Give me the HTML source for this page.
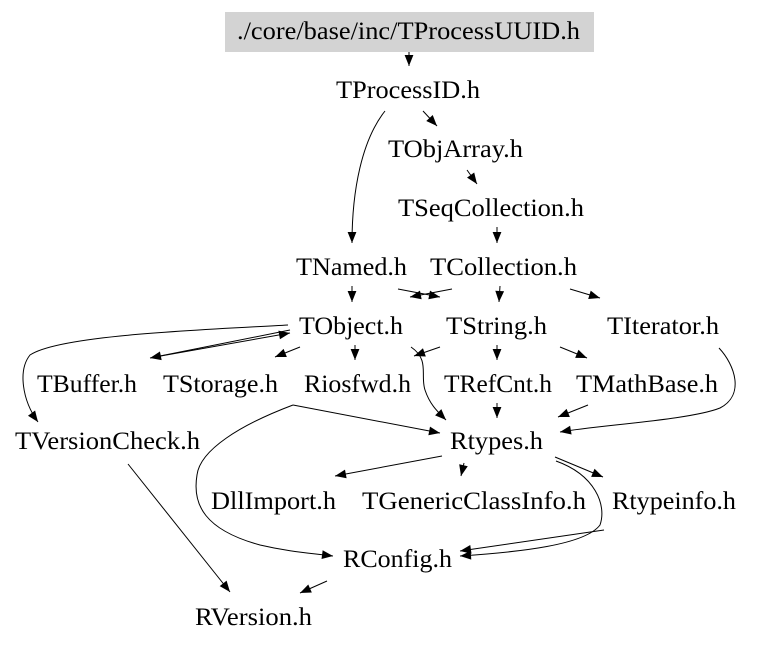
<!DOCTYPE html>
<html><head><meta charset="utf-8"><style>
html,body{margin:0;padding:0;background:#fff;}
svg{display:block;}
text{font-family:"Liberation Serif",serif;font-size:25px;fill:#000;}
path,line{stroke:#000;stroke-width:1;fill:none;}
</style></head><body>
<svg width="757" height="645" viewBox="0 0 757 645" xmlns="http://www.w3.org/2000/svg">
<defs>
<marker id="a" viewBox="0 0 10 10" refX="10" refY="5" markerWidth="13" markerHeight="11" markerUnits="userSpaceOnUse" orient="auto">
<path d="M0,1 L10,5 L0,9 z" style="fill:#000;stroke:none"/>
</marker>
</defs>
<rect x="225" y="12" width="369" height="40" fill="#d3d3d3"/>
<text x="237" y="39" textLength="343" lengthAdjust="spacingAndGlyphs">./core/base/inc/TProcessUUID.h</text>
<text x="336" y="98" textLength="144" lengthAdjust="spacingAndGlyphs">TProcessID.h</text>
<text x="388" y="157" textLength="135" lengthAdjust="spacingAndGlyphs">TObjArray.h</text>
<text x="398" y="216" textLength="186" lengthAdjust="spacingAndGlyphs">TSeqCollection.h</text>
<text x="296" y="275" textLength="111" lengthAdjust="spacingAndGlyphs">TNamed.h</text>
<text x="430" y="275" textLength="147" lengthAdjust="spacingAndGlyphs">TCollection.h</text>
<text x="299" y="334" textLength="104" lengthAdjust="spacingAndGlyphs">TObject.h</text>
<text x="446" y="334" textLength="101" lengthAdjust="spacingAndGlyphs">TString.h</text>
<text x="607" y="334" textLength="112" lengthAdjust="spacingAndGlyphs">TIterator.h</text>
<text x="37" y="392" textLength="100" lengthAdjust="spacingAndGlyphs">TBuffer.h</text>
<text x="163" y="392" textLength="115" lengthAdjust="spacingAndGlyphs">TStorage.h</text>
<text x="304" y="392" textLength="107" lengthAdjust="spacingAndGlyphs">Riosfwd.h</text>
<text x="444" y="392" textLength="108" lengthAdjust="spacingAndGlyphs">TRefCnt.h</text>
<text x="576" y="392" textLength="142" lengthAdjust="spacingAndGlyphs">TMathBase.h</text>
<text x="15" y="449" textLength="185" lengthAdjust="spacingAndGlyphs">TVersionCheck.h</text>
<text x="450" y="449" textLength="93" lengthAdjust="spacingAndGlyphs">Rtypes.h</text>
<text x="211" y="509" textLength="125" lengthAdjust="spacingAndGlyphs">DllImport.h</text>
<text x="362" y="509" textLength="224" lengthAdjust="spacingAndGlyphs">TGenericClassInfo.h</text>
<text x="612" y="509" textLength="124" lengthAdjust="spacingAndGlyphs">Rtypeinfo.h</text>
<text x="343" y="567" textLength="109" lengthAdjust="spacingAndGlyphs">RConfig.h</text>
<text x="195" y="625" textLength="117" lengthAdjust="spacingAndGlyphs">RVersion.h</text>

<g marker-end="url(#a)">
<line x1="409" y1="52" x2="409" y2="66"/>
<line x1="423" y1="111" x2="437" y2="126"/>
<path d="M385,111 C362,140 352,190 352,243"/>
<line x1="467" y1="170" x2="477" y2="184"/>
<line x1="497" y1="227" x2="497" y2="243"/>
<line x1="352" y1="286" x2="352" y2="302"/>
<line x1="398" y1="289" x2="440" y2="297"/>
<line x1="452" y1="289" x2="410" y2="297"/>
<line x1="500" y1="286" x2="499" y2="302"/>
<line x1="570" y1="289" x2="600" y2="298"/>
<path d="M288,325 C200,330 60,335 30,355 C18,370 22,400 38,422"/>
<line x1="290" y1="330" x2="150" y2="358"/>
<line x1="155" y1="357" x2="290" y2="333"/>
<line x1="300" y1="347" x2="275" y2="357"/>
<line x1="355" y1="345" x2="355" y2="360"/>
<path d="M411,347 C430,360 420,375 425,390 C430,405 438,412 446,420"/>
<line x1="440" y1="347" x2="414" y2="356"/>
<line x1="497" y1="345" x2="497" y2="360"/>
<line x1="560" y1="347" x2="587" y2="358"/>
<path d="M719,348 C735,365 745,395 720,408 C690,420 600,425 560,432"/>
<line x1="588" y1="405" x2="558" y2="417"/>
<line x1="497" y1="403" x2="497" y2="418"/>
<line x1="293" y1="405" x2="440" y2="433"/>
<path d="M293,405 C240,425 200,450 197,475 C192,505 205,530 260,545 C290,552 310,553 333,556"/>
<line x1="128" y1="464" x2="230" y2="592"/>
<line x1="442" y1="456" x2="335" y2="476"/>
<line x1="464" y1="463" x2="461" y2="476"/>
<line x1="555" y1="457" x2="603" y2="477"/>
<path d="M556,461 C595,475 607,505 600,525 C585,545 520,552 460,556"/>
<line x1="604" y1="530" x2="460" y2="551"/>
<line x1="327" y1="581" x2="300" y2="593"/>
</g>
</svg>
</body></html>
